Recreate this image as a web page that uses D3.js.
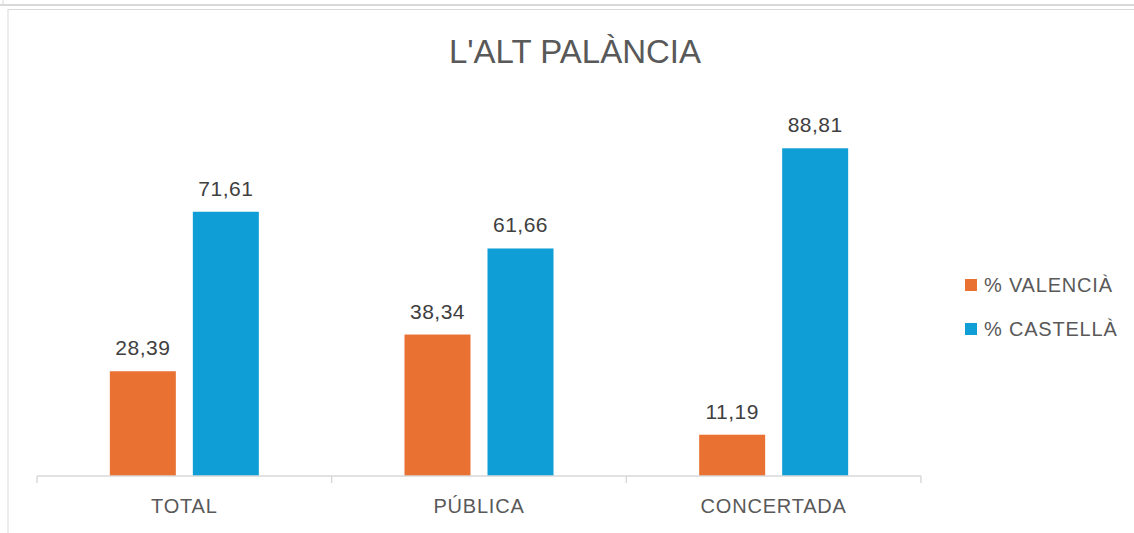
<!DOCTYPE html>
<html>
<head>
<meta charset="utf-8">
<script src="https://cdn.jsdelivr.net/npm/d3@7"></script>
<style>
body{margin:0;background:#fff;}
text{font-family:"Liberation Sans",Arial,sans-serif;}
</style>
</head>
<body>
<div id="chart"></div>
<script>
var categories=["TOTAL","PÚBLICA","CONCERTADA"];
var seriesNames=["% VALENCIÀ","% CASTELLÀ"];
var valencia=[28.39,38.34,11.19];
var castella=[71.61,61.66,88.81];
var colors=["#E97132","#0F9ED5"];

var W=1134,H=533;
var svg=d3.select("#chart")
	.append("svg")
	.attr("width",W)
	.attr("height",H);

// frame lines
svg.append("line").attr("x1",0).attr("x2",W).attr("y1",5).attr("y2",5)
	.attr("stroke","#d9d9d9").attr("stroke-width",2);
svg.append("line").attr("x1",3).attr("x2",3).attr("y1",0).attr("y2",5)
	.attr("stroke","#d9d9d9").attr("stroke-width",1);
svg.append("rect").attr("x",8).attr("y",9.5).attr("width",W).attr("height",H)
	.attr("fill","none").attr("stroke","#d9d9d9").attr("stroke-width",1);

svg.append("text")
	.attr("x",575)
	.attr("y",63)
	.attr("text-anchor","middle")
	.attr("font-size",33)
	.attr("fill","#595959")
	.text("L'ALT PALÀNCIA");

var x=d3.scaleBand().domain(categories).range([37,921]);
var y=d3.scaleLinear().domain([0,100]).range([476,107]);

var rows=categories.map(function(c,i){return {cat:c,vals:[valencia[i],castella[i]]};});

var barW=66,gap=17;
var g=svg.selectAll("g.cat").data(rows).enter().append("g")
	.attr("transform",function(d){return "translate("+(x(d.cat)+x.bandwidth()/2)+",0)";});

g.selectAll("rect").data(function(d){return d.vals;}).enter().append("rect")
	.attr("x",function(d,i){return i==0?-(barW+gap/2):gap/2;})
	.attr("y",function(d){return y(d);})
	.attr("width",barW)
	.attr("height",function(d){return y(0)-y(d);})
	.attr("fill",function(d,i){return colors[i];});

g.selectAll("text").data(function(d){return d.vals;}).enter().append("text")
	.attr("x",function(d,i){return i==0?-(barW/2+gap/2):(gap/2+barW/2);})
	.attr("y",function(d){return y(d)-16;})
	.attr("text-anchor","middle")
	.attr("font-size",21)
	.attr("letter-spacing",0.5)
	.attr("fill","#404040")
	.text(function(d){return d.toFixed(2).replace(".",",");});

// axis
var ax=svg.append("g").attr("transform","translate(0,476)");
ax.append("line").attr("x1",37).attr("x2",921).attr("y1",0).attr("y2",0)
	.attr("stroke","#d9d9d9").attr("stroke-width",1.5);
var ticks=categories.map(function(c){return x(c);}).concat([921]);
ax.selectAll("line.tick").data(ticks).enter().append("line")
	.attr("class","tick")
	.attr("x1",function(d){return d;}).attr("x2",function(d){return d;})
	.attr("y1",0).attr("y2",7)
	.attr("stroke","#d9d9d9").attr("stroke-width",1.5);
ax.selectAll("text").data(categories).enter().append("text")
	.attr("x",function(d){return x(d)+x.bandwidth()/2;})
	.attr("y",37)
	.attr("text-anchor","middle")
	.attr("font-size",20)
	.attr("letter-spacing",0.8)
	.attr("fill","#595959")
	.text(function(d){return d;});

// legend
var lg=svg.selectAll("g.leg").data(seriesNames).enter().append("g")
	.attr("transform",function(d,i){return "translate(965,"+(279+i*44)+")";});
lg.append("rect").attr("width",12).attr("height",12)
	.attr("fill",function(d,i){return colors[i];});
lg.append("text").attr("x",19).attr("y",13)
	.attr("font-size",20)
	.attr("letter-spacing",0.8)
	.attr("fill","#595959")
	.text(function(d){return d;});
</script>
</body>
</html>
